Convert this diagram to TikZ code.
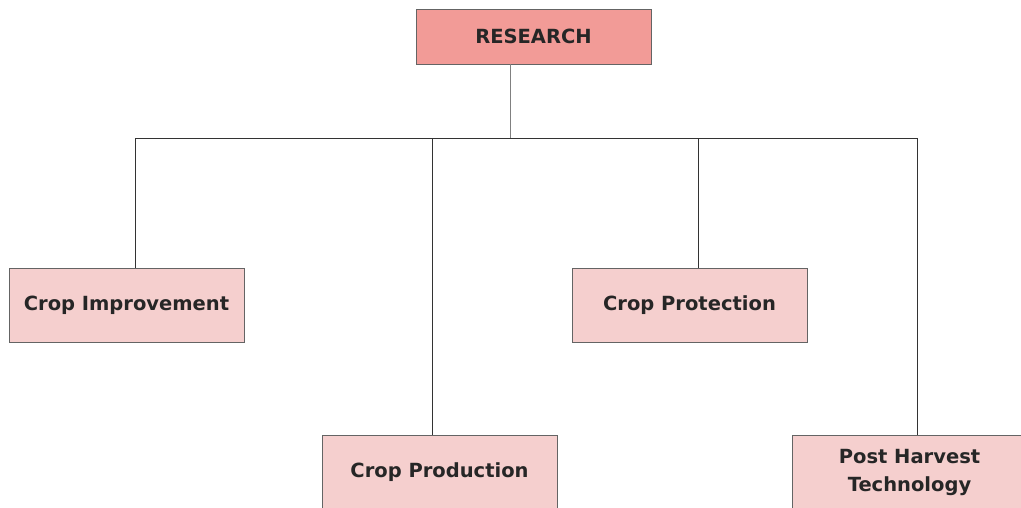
\documentclass[tikz,border=0pt]{standalone}
\usepackage{fontspec}
\setmainfont{DejaVu Sans}
\usetikzlibrary{positioning}

\definecolor{headfill}{RGB}{242,155,151}
\definecolor{leaffill}{RGB}{245,207,206}
\definecolor{boxline}{RGB}{100,100,100}

\begin{document}
\begin{tikzpicture}[x=1pt,y=-1pt,
  box/.style={draw=boxline, line width=0.9pt, minimum width=235pt, inner sep=0pt,
    font=\bfseries\fontsize{19.5}{28}\selectfont, text=black!85, align=center},
  headbox/.style={box, fill=headfill, minimum height=55pt},
  leafbox/.style={box, fill=leaffill, minimum height=74pt},
  link/.style={draw=black!80, line width=0.9pt}]
\useasboundingbox (0,0) rectangle (1021,508);

% Top box
\node [headbox] (research) at (533.5,36.5) {RESEARCH};

% Branches
\node [leafbox] (improve) at (126.5,305) {Crop Improvement};
\node [leafbox] (protect) at (689.5,305) {Crop Protection};
\node [leafbox] (produce) at (439.5,472) {Crop Production};
\node [leafbox] (harvest) at (909.5,472) {Post Harvest\\Technology};

\coordinate (bus) at (510,138);

% Connectors
\draw [link, draw=gray] (research.south -| bus) -- (bus);
\draw [link] (improve.north -| 135,0) -- (bus -| 135,0) -- (bus -| 917,0) -- (harvest.north -| 917,0);
\draw [link] (produce.north -| 432,0) -- (bus -| 432,0);
\draw [link] (protect.north -| 698,0) -- (bus -| 698,0);

\end{tikzpicture}
\end{document}
